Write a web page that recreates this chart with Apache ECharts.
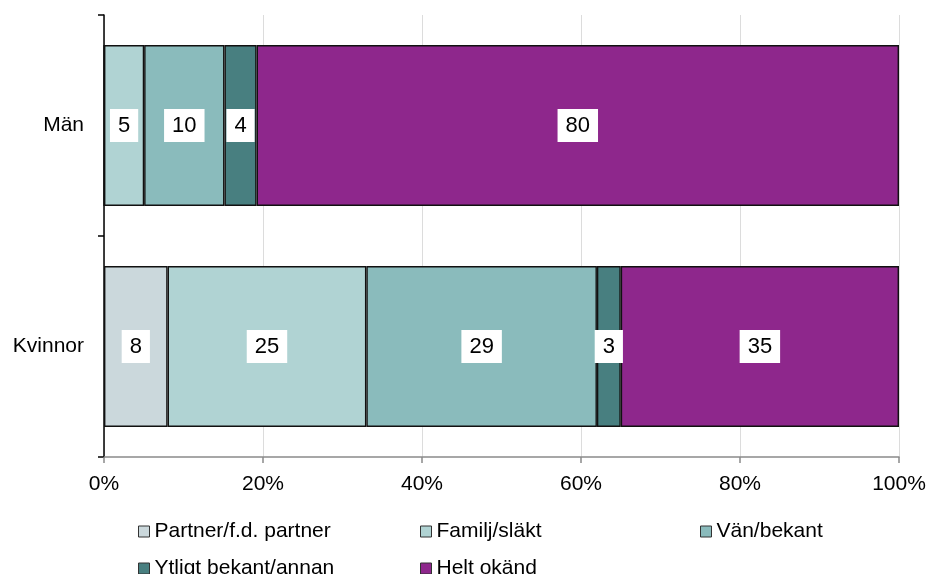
<!DOCTYPE html>
<html>
<head>
<meta charset="utf-8">
<script src="https://cdn.jsdelivr.net/npm/echarts@6/dist/echarts.min.js"></script>
<style>
  html, body { margin: 0; padding: 0; background: #fff; }
  #chart { width: 929px; height: 574px; }
</style>
</head>
<body>
<div id="chart"></div>
<script>
const groups = ['Män', 'Kvinnor']
const seriesNames = ['Partner/f.d. partner', 'Familj/släkt', 'Vän/bekant', 'Ytligt bekant/annan', 'Helt okänd']
// values per series: [Män, Kvinnor]
const partner = [0, 8]
const familj = [5, 25]
const van = [10, 29]
const ytligt = [4, 3]
const heltOkand = [80, 35]
const xTicks = [0, 20, 40, 60, 80, 100]

const colors = ['#cbd8dc', '#b0d3d3', '#8abbbc', '#487f80', '#8e278c']
const font = 'Liberation Sans, Arial, sans-serif'

const rows = [partner, familj, van, ytligt, heltOkand]
const totals = groups.map((g, i) => rows.reduce((s, r) => s + r[i], 0))

const chart = echarts.init(document.getElementById('chart'))

const legendPos = [
  { left: 133, top: 516 },
  { left: 415, top: 516 },
  { left: 695, top: 516 },
  { left: 133, top: 553 },
  { left: 415, top: 553 },
]

chart.setOption({
  animation: false,
  textStyle: { fontFamily: font },
  grid: { left: 104, right: 30, top: 15, bottom: 117 },
  legend: seriesNames.map((name, i) => ({
    data: [name],
    left: legendPos[i].left,
    top: legendPos[i].top,
    icon: 'rect',
    itemWidth: 11,
    itemHeight: 11,
    itemStyle: { borderColor: '#333', borderWidth: 1 },
    textStyle: { fontFamily: font, fontSize: 21, color: '#000' },
    selectedMode: false,
  })),
  xAxis: {
    type: 'value',
    min: xTicks[0],
    max: xTicks[xTicks.length - 1],
    interval: 20,
    axisLine: { show: true, lineStyle: { color: '#8a8a8a', width: 1.5 } },
    axisTick: { show: true, length: 6, lineStyle: { color: '#8a8a8a', width: 1.5 } },
    axisLabel: { formatter: '{value}%', color: '#000', fontSize: 21, fontFamily: font, margin: 17 },
    splitLine: { show: true, lineStyle: { color: '#dcdcdc', width: 1 } },
  },
  yAxis: {
    type: 'category',
    data: groups,
    inverse: true,
    axisLine: { show: true, lineStyle: { color: '#000', width: 1.5 } },
    axisTick: { show: true, length: 6, lineStyle: { color: '#000', width: 1.5 } },
    axisLabel: { color: '#000', fontSize: 21, fontFamily: font, margin: 20 },
  },
  series: seriesNames.map((name, si) => ({
    name,
    type: 'bar',
    stack: 'total',
    barWidth: 161,
    itemStyle: { color: colors[si], borderColor: '#111', borderWidth: 1.4 },
    label: {
      show: true,
      position: 'inside',
      color: '#000',
      fontSize: 22,
      fontFamily: font,
      backgroundColor: '#fff',
      padding: [6, 8, 5, 8],
      formatter: p => String(p.data.raw),
    },
    data: rows[si].map((v, gi) => ({
      value: v / totals[gi] * 100,
      raw: v,
      label: { show: v > 0 },
    })),
  })),
})
</script>
</body>
</html>
